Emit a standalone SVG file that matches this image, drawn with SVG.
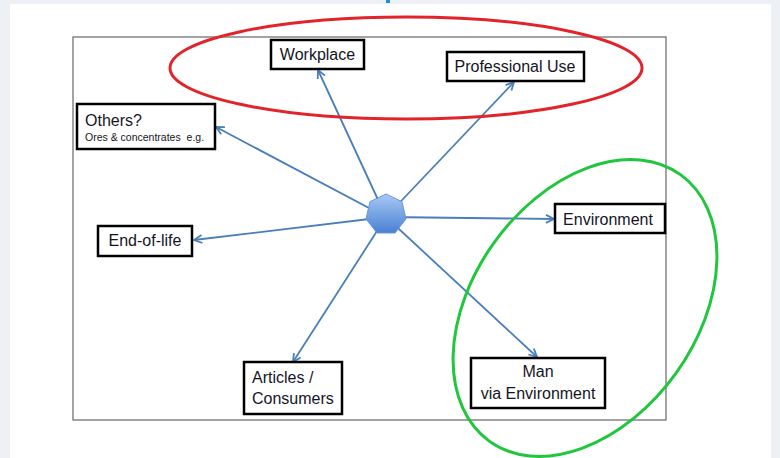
<svg xmlns="http://www.w3.org/2000/svg" width="780" height="458" viewBox="0 0 780 458">
<defs>
<style>
.box{fill:#fff;stroke:#000;stroke-width:2.5}
.t{font-family:"Liberation Sans",Arial,sans-serif;font-size:16px;fill:#15151f}
.c{text-anchor:middle}
.s{font-size:10.5px}
.conn{stroke:#4a7ebb;stroke-width:1.8;fill:none;marker-end:url(#ah)}
</style>
<marker id="ah" markerUnits="userSpaceOnUse" markerWidth="12" markerHeight="12" refX="9" refY="5" orient="auto">
<path d="M1,1 L9,5 L1,9" fill="none" stroke="#4a7ebb" stroke-width="1.8"/>
</marker>
<linearGradient id="hg" x1="0" y1="0" x2="0" y2="1">
<stop offset="0" stop-color="#a8c9f5"/>
<stop offset="1" stop-color="#4a80d2"/>
</linearGradient>
</defs>
<rect x="0" y="0" width="780" height="458" fill="#edf1f5"/>
<rect x="10" y="4" width="761" height="454" fill="#fff"/>
<rect x="386" y="0" width="4" height="3" fill="#1e8fd8"/>
<rect x="73" y="37" width="593" height="383" fill="none" stroke="#666" stroke-width="1.2"/>
<g id="connectors">
<line class="conn" x1="386" y1="217" x2="318" y2="70"/>
<line class="conn" x1="386" y1="217" x2="514" y2="82"/>
<line class="conn" x1="386" y1="217" x2="216" y2="127"/>
<line class="conn" x1="386" y1="217" x2="194" y2="240"/>
<line class="conn" x1="386" y1="217" x2="554" y2="219"/>
<line class="conn" x1="386" y1="217" x2="293" y2="362"/>
<line class="conn" x1="386" y1="217" x2="537" y2="357"/>
</g>
<g id="hub">
<polygon points="386,194 402,201.7 406,219 395,233 377,233 366,219 370,201.7" fill="url(#hg)" stroke="#6b95d3" stroke-width="1"/>
</g>
<g id="workplace">
<rect class="box" x="271" y="40" width="93" height="29"/>
<text class="t c" x="317.5" y="60">Workplace</text>
</g>
<g id="professional-use">
<rect class="box" x="447" y="52" width="137" height="29"/>
<text class="t c" x="515" y="72">Professional Use</text>
</g>
<g id="others">
<rect class="box" x="77" y="104" width="138" height="45"/>
<text class="t" x="85" y="126">Others?</text>
<text class="t s" x="85" y="141" xml:space="preserve">Ores &amp; concentrates  e.g.</text>
</g>
<g id="end-of-life">
<rect class="box" x="98" y="226" width="94" height="30"/>
<text class="t c" x="145" y="246">End-of-life</text>
</g>
<g id="environment">
<rect class="box" x="555" y="204" width="110" height="29"/>
<text class="t c" x="608" y="225">Environment</text>
</g>
<g id="articles-consumers">
<rect class="box" x="244" y="362" width="98" height="52"/>
<text class="t" x="252" y="383">Articles /</text>
<text class="t" x="252" y="404">Consumers</text>
</g>
<g id="man-via-environment">
<rect class="box" x="471" y="358" width="134" height="50"/>
<text class="t c" x="538" y="377">Man</text>
<text class="t c" x="538" y="399">via Environment</text>
</g>
<ellipse cx="406" cy="68" rx="236" ry="51" fill="none" stroke="#e3232a" stroke-width="3"/>
<ellipse cx="585" cy="308" rx="164" ry="112" transform="rotate(-54.4 585 308)" fill="none" stroke="#20c63c" stroke-width="3"/>
</svg>
